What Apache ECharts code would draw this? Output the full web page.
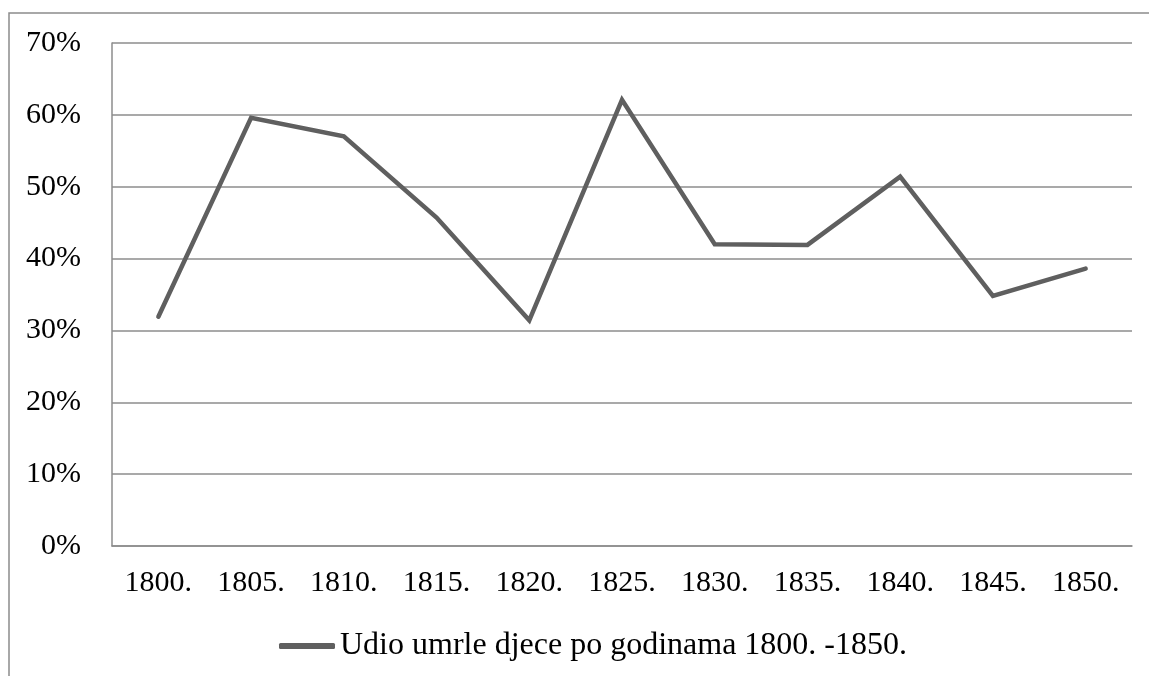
<!DOCTYPE html>
<html>
<head>
<meta charset="utf-8">
<script src="https://cdn.jsdelivr.net/npm/echarts@6/dist/echarts.min.js"></script>
<style>
  html, body { margin: 0; padding: 0; background: #fff; }
  #chart { width: 1149px; height: 676px; }
</style>
</head>
<body>
<div id="chart"></div>
<script>
// Years shown on the category axis
const years = ['1800.', '1805.', '1810.', '1815.', '1820.', '1825.', '1830.', '1835.', '1840.', '1845.', '1850.'];
// Share of deceased children per year, in percent
const shares = [31.9, 59.6, 57.0, 45.7, 31.4, 62.1, 42.0, 41.9, 51.4, 34.8, 38.6];
const seriesName = 'Udio umrle djece po godinama 1800. -1850.';

const FONT = '"Liberation Serif", "DejaVu Serif", serif';
const GRID_COLOR = '#8c8c8c';
const LINE_COLOR = '#5f5f5f';

const chart = echarts.init(document.getElementById('chart'), null, { renderer: 'canvas' });
chart.setOption({
  animation: false,
  backgroundColor: '#ffffff',
  // outer frame of the chart area (extends past the right and bottom edges)
  graphic: [{
    type: 'rect',
    shape: { x: 9, y: 13, width: 1300, height: 800 },
    style: { fill: 'none', stroke: '#8c8c8c', lineWidth: 1.5 },
    silent: true
  }],
  grid: { left: 112, right: 17, top: 43, bottom: 130, containLabel: false },
  legend: {
    data: [{ name: seriesName, icon: 'roundRect' }],
    top: 625,
    left: 274,
    itemWidth: 56,
    itemHeight: 6,
    textStyle: { fontFamily: FONT, fontSize: 32, color: '#000' }
  },
  xAxis: {
    type: 'category',
    data: years,
    boundaryGap: true,
    axisLine: { show: true, lineStyle: { color: GRID_COLOR, width: 1.5 } },
    axisTick: { show: false },
    axisLabel: { fontFamily: FONT, fontSize: 30, color: '#000', margin: 22 },
    splitLine: { show: false }
  },
  yAxis: {
    type: 'value',
    min: 0,
    max: 70,
    interval: 10,
    axisLine: { show: true, lineStyle: { color: GRID_COLOR, width: 1.5 } },
    axisTick: { show: false },
    axisLabel: { fontFamily: FONT, fontSize: 30, color: '#000', margin: 31, formatter: '{value}%' },
    splitLine: { show: true, lineStyle: { color: GRID_COLOR, width: 1.5 } }
  },
  series: [{
    name: seriesName,
    type: 'line',
    data: shares,
    symbol: 'none',
    lineStyle: { color: LINE_COLOR, width: 4.5, cap: 'round', join: 'miter' },
    itemStyle: { color: LINE_COLOR }
  }]
});
</script>
</body>
</html>
